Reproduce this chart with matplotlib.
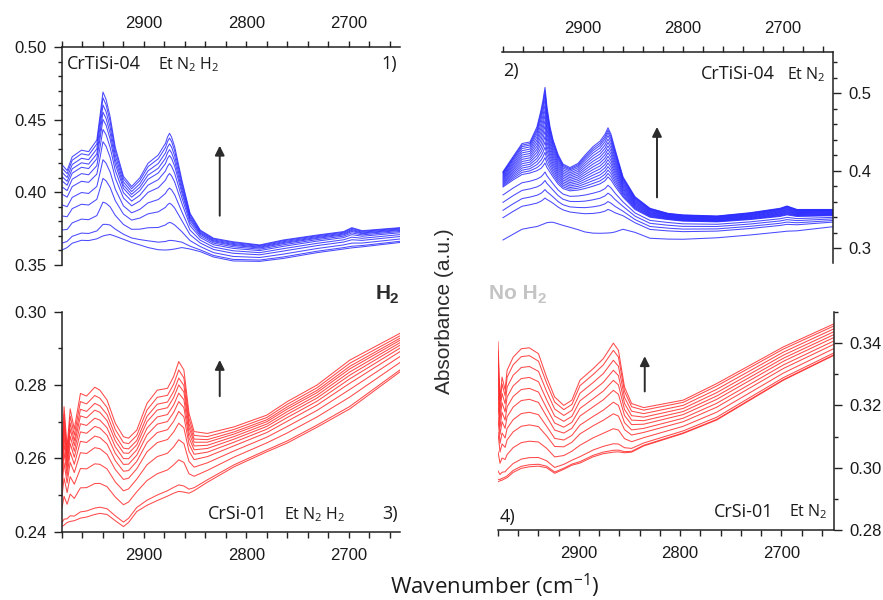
import numpy as np
import matplotlib
matplotlib.use("Agg")
import matplotlib.pyplot as plt
from matplotlib.ticker import MultipleLocator, FixedLocator, FormatStrFormatter

plt.rcParams["font.family"] = "Liberation Sans"
plt.rcParams["mathtext.default"] = "regular"

# ---- spectra: wavenumber knots, lowest / (middle) / highest trace, and the
# ---- relative level of every recorded trace between those references
wn_tr = [2980, 2975, 2970, 2961, 2954, 2946, 2943, 2940, 2937, 2933, 2928, 2920,
         2912, 2904, 2896, 2886, 2879, 2877, 2875, 2873, 2870, 2863, 2855, 2845,
         2832, 2813, 2787, 2764, 2731, 2705, 2697, 2687, 2650]
crtisi_h2_low = [0.3603, 0.362, 0.365, 0.367, 0.3668, 0.368, 0.369, 0.370, 0.3705,
                 0.371, 0.3698, 0.3677, 0.3655, 0.3638, 0.362, 0.3605, 0.3603, 0.3604,
                 0.3605, 0.3607, 0.361, 0.362, 0.361, 0.3592, 0.3555, 0.3528, 0.3525,
                 0.3545, 0.3585, 0.361, 0.3618, 0.3625, 0.3655]
crtisi_h2_top = [0.419, 0.415, 0.4245, 0.429, 0.428, 0.436, 0.452, 0.469, 0.464,
                 0.452, 0.431, 0.411, 0.404, 0.410, 0.420, 0.4257, 0.4337, 0.438,
                 0.4406, 0.438, 0.4314, 0.4085, 0.3856, 0.374, 0.3684, 0.366, 0.3638,
                 0.3672, 0.3706, 0.373, 0.3757, 0.3736, 0.3757]
crtisi_h2_levels = [0, 0.08, 0.235, 0.40, 0.53, 0.655, 0.74, 0.81, 0.86, 0.91, 0.96, 1.0]

wn_tn = [2980, 2970, 2961, 2953, 2946, 2942, 2940, 2938, 2936, 2933, 2930, 2925,
         2920, 2913, 2905, 2898, 2890, 2883, 2878, 2875, 2872, 2868, 2860, 2848,
         2833, 2815, 2800, 2766, 2733, 2703, 2696, 2686, 2650]
crtisi_n2_low = [0.3107, 0.318, 0.3245, 0.3265, 0.328, 0.330, 0.331, 0.332, 0.333,
                 0.3335, 0.3335, 0.3315, 0.3295, 0.327, 0.324, 0.321, 0.3195, 0.3193,
                 0.3195, 0.3197, 0.320, 0.321, 0.3245, 0.3205, 0.3129, 0.3118, 0.3116,
                 0.3135, 0.3171, 0.321, 0.322, 0.3225, 0.3278]
crtisi_n2_mid = [0.379, 0.388, 0.395, 0.397, 0.400, 0.403, 0.406, 0.410, 0.404,
                 0.398, 0.392, 0.383, 0.377, 0.374, 0.375, 0.377, 0.380, 0.383,
                 0.387, 0.392, 0.388, 0.380, 0.366, 0.350, 0.340, 0.337, 0.335,
                 0.334, 0.337, 0.341, 0.343, 0.341, 0.342]
crtisi_n2_top = [0.3987, 0.418, 0.435, 0.437, 0.4566, 0.478, 0.491, 0.5073, 0.482,
                 0.4566, 0.440, 0.421, 0.4085, 0.404, 0.4094, 0.420, 0.431, 0.438,
                 0.447, 0.4553, 0.447, 0.428, 0.392, 0.3664, 0.3515, 0.345, 0.343,
                 0.3416, 0.3458, 0.3515, 0.3545, 0.350, 0.350]
crtisi_n2_levels = [0, 0.42, 0.56, 0.71, 0.85, 1.0, 1.07, 1.14, 1.21, 1.28, 1.35, 1.42,
                    1.49, 1.56, 1.63, 1.70, 1.77, 1.84, 1.90, 1.95, 2.0]

wn_sh = [2980, 2978, 2975, 2972, 2968, 2962, 2956, 2948, 2943, 2936, 2928, 2920,
         2915, 2907, 2897, 2887, 2877, 2871, 2866, 2861, 2856, 2851, 2838, 2812,
         2780, 2760, 2731, 2699, 2650]
crsi_h2_low = [0.2414, 0.2418, 0.2425, 0.2428, 0.243, 0.2437, 0.244, 0.2447, 0.245,
               0.2447, 0.243, 0.2414, 0.2425, 0.2455, 0.2472, 0.2485, 0.2497, 0.2505,
               0.251, 0.2508, 0.2505, 0.2512, 0.2535, 0.2577, 0.2618, 0.2642, 0.2685,
               0.2735, 0.2836]
crsi_h2_top = [0.262, 0.2741, 0.263, 0.2735, 0.268, 0.2777, 0.277, 0.2794, 0.2786,
               0.2759, 0.2696, 0.2659, 0.2655, 0.2677, 0.275, 0.2786, 0.2791, 0.2823,
               0.2864, 0.2841, 0.2723, 0.2673, 0.2668, 0.2686, 0.2718, 0.2755, 0.280,
               0.2868, 0.2941]
crsi_h2_levels = [0, 0.05, 0.243, 0.398, 0.525, 0.616, 0.692, 0.757, 0.82, 0.873, 0.935, 1.0]

wn_sn = [2980, 2978, 2976, 2973, 2971, 2965, 2957, 2949, 2940, 2932, 2924, 2915,
         2907, 2899, 2886, 2876, 2866, 2861, 2855, 2848, 2836, 2797, 2764, 2731,
         2698, 2648]
crsi_n2_low = [0.2955, 0.2958, 0.296, 0.2965, 0.2968, 0.2985, 0.2998, 0.3003, 0.3005,
               0.300, 0.2982, 0.2995, 0.3008, 0.3015, 0.3035, 0.3045, 0.305, 0.3051,
               0.3048, 0.305, 0.307, 0.311, 0.3153, 0.3217, 0.3281, 0.3361]
crsi_n2_top = [0.3404, 0.322, 0.3291, 0.325, 0.3313, 0.3355, 0.3382, 0.3385, 0.3366,
               0.3291, 0.3227, 0.320, 0.3217, 0.3281, 0.3318, 0.335, 0.340, 0.3377,
               0.3259, 0.3206, 0.3193, 0.3217, 0.327, 0.3329, 0.3388, 0.3462]
crsi_n2_levels = [0, 0.017, 0.077, 0.215, 0.352, 0.458, 0.567, 0.659, 0.751, 0.843, 0.934, 1.0]

x_ticks = [2900, 2800, 2700]
p1_yticks = [0.35, 0.40, 0.45, 0.50]
p2_yticks = [0.3, 0.4, 0.5]
p3_yticks = [0.24, 0.26, 0.28, 0.30]
p4_yticks = [0.28, 0.30, 0.32, 0.34]


def trace(refs, t):
    # blend between neighbouring reference traces
    refs = [np.asarray(r) for r in refs]
    i = min(int(np.floor(t)), len(refs) - 2)
    f = t - i
    return refs[i] + f * (refs[i + 1] - refs[i])


def box(left, top, right, bottom):
    # pixel box -> figure fraction
    return [left / 883, 1 - bottom / 600, (right - left) / 883, (bottom - top) / 600]


def setup(ax, xside, yside, xlim, ylim, yticks, yminor, yfmt):
    ax.set_xlim(*xlim)
    ax.set_ylim(*ylim)
    for side in ["top", "bottom", "left", "right"]:
        ax.spines[side].set_visible(side in (xside, yside))
        ax.spines[side].set_linewidth(1.1)
        ax.spines[side].set_color("#222222")
    ax.xaxis.set_ticks_position(xside)
    ax.yaxis.set_ticks_position(yside)
    ax.xaxis.set_major_locator(FixedLocator(x_ticks))
    ax.xaxis.set_minor_locator(MultipleLocator(20))
    ax.yaxis.set_major_locator(FixedLocator(yticks))
    ax.yaxis.set_minor_locator(MultipleLocator(yminor))
    ax.yaxis.set_major_formatter(FormatStrFormatter(yfmt))
    ax.tick_params(axis="x", which="both", direction="out", length=4.5, width=1.0,
                   color="#222222", labelsize=12, labelcolor="#1a1a1a", pad=7)
    ax.tick_params(axis="y", which="major", direction="out", length=6, width=1.0,
                   color="#222222", labelsize=12, labelcolor="#1a1a1a", pad=5)
    ax.tick_params(axis="y", which="minor", direction="out", length=3.2, width=1.0,
                   color="#222222")
    ax.patch.set_alpha(0)


def label(ax, x, y, s, ha="left", size=13):
    ax.text(x, y, s, transform=ax.transAxes, ha=ha, va="baseline",
            fontsize=size, family="Open Sans", color="#1a1a1a")


def bold_h2(x_px, base_px, prefix, sub_x_px, color):
    # bold "H" text with a hand-placed subscript 2
    fig.text(x_px / 883, 1 - base_px / 600, prefix, ha="left", va="baseline",
             fontsize=15, fontweight="bold", color=color)
    fig.text(sub_x_px / 883, 1 - (base_px + 4) / 600, "2", ha="left", va="baseline",
             fontsize=11, fontweight="bold", color=color)


fig = plt.figure(figsize=(8.83, 6), dpi=100)
blue = "#2a2aff"
red = "#ff2a2a"

# 1) CrTiSi-04 with H2
ax1 = fig.add_axes(box(62, 47, 400, 265))
for t in crtisi_h2_levels:
    ax1.plot(wn_tr, trace([crtisi_h2_low, crtisi_h2_top], t), color=blue, lw=0.75, alpha=0.85)
setup(ax1, "top", "left", (2980, 2650), (0.35, 0.50), p1_yticks, 0.01, "%.2f")
label(ax1, 0.015, 0.898, "CrTiSi-04")
label(ax1, 0.284, 0.898, "Et N$_2$ H$_2$", size=11.5)
label(ax1, 0.99, 0.898, "1)", ha="right")
ax1.annotate("", xy=(2826, 0.434), xytext=(2826, 0.382),
             arrowprops=dict(arrowstyle="-|>", color="#2b2b2b", lw=1.4, mutation_scale=14))

# 2) CrTiSi-04 without H2
ax2 = fig.add_axes(box(502, 52, 833, 263))
for t in crtisi_n2_levels:
    ax2.plot(wn_tn, trace([crtisi_n2_low, crtisi_n2_mid, crtisi_n2_top], t),
             color=blue, lw=0.75, alpha=0.85)
setup(ax2, "top", "right", (2981, 2650), (0.281, 0.553), p2_yticks, 0.02, "%.1f")
label(ax2, 0.004, 0.886, "2)")
label(ax2, 0.825, 0.871, "CrTiSi-04", ha="right")
label(ax2, 0.861, 0.871, "Et N$_2$", size=11.5)
ax2.annotate("", xy=(2826, 0.460), xytext=(2826, 0.362),
             arrowprops=dict(arrowstyle="-|>", color="#2b2b2b", lw=1.4, mutation_scale=14))

# 3) CrSi-01 with H2
ax3 = fig.add_axes(box(62, 311.7, 400, 531.7))
for t in crsi_h2_levels:
    ax3.plot(wn_sh, trace([crsi_h2_low, crsi_h2_top], t), color=red, lw=0.75, alpha=0.85)
setup(ax3, "bottom", "left", (2980, 2650), (0.24, 0.30), p3_yticks, 0.01, "%.2f")
label(ax3, 0.432, 0.056, "CrSi-01")
label(ax3, 0.656, 0.056, "Et N$_2$ H$_2$", size=11.5)
label(ax3, 0.995, 0.056, "3)", ha="right")
ax3.annotate("", xy=(2826, 0.2876), xytext=(2826, 0.2762),
             arrowprops=dict(arrowstyle="-|>", color="#2b2b2b", lw=1.4, mutation_scale=14))

# 4) CrSi-01 without H2
ax4 = fig.add_axes(box(498, 312, 834, 530))
for t in crsi_n2_levels:
    ax4.plot(wn_sn, trace([crsi_n2_low, crsi_n2_top], t), color=red, lw=0.75, alpha=0.85)
setup(ax4, "bottom", "right", (2980, 2648), (0.28, 0.35), p4_yticks, 0.01, "%.2f")
label(ax4, 0.004, 0.038, "4)")
label(ax4, 0.641, 0.061, "CrSi-01")
label(ax4, 0.867, 0.061, "Et N$_2$", size=11.5)
ax4.annotate("", xy=(2835, 0.3367), xytext=(2835, 0.3236),
             arrowprops=dict(arrowstyle="-|>", color="#2b2b2b", lw=1.4, mutation_scale=14))

# shared labels
bold_h2(376, 299, "H", 390, "#2b2b2b")
bold_h2(489, 299, "No H", 538, "#c4c4c4")
fig.text(444 / 883, 1 - 311 / 600, "Absorbance (a.u.)", rotation=90, ha="center",
         va="center", fontsize=15, color="#2b2b2b")
fig.text(495 / 883, 1 - 586 / 600, "Wavenumber (cm$^{-1}$)", ha="center", va="center",
         fontsize=16, family="Open Sans", color="#1a1a1a")

fig.savefig("out.png", dpi=100)
